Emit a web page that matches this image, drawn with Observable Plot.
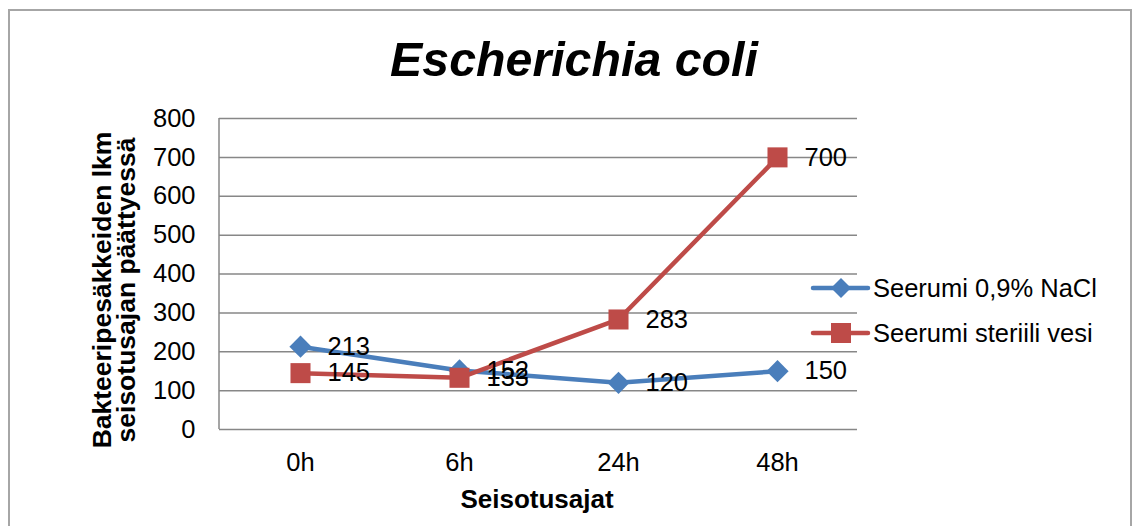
<!DOCTYPE html>
<html>
<head>
<meta charset="utf-8">
<script src="https://cdn.jsdelivr.net/npm/d3@7"></script>
<script src="https://cdn.jsdelivr.net/npm/@observablehq/plot@0.6"></script>
<style>
  html, body { margin: 0; padding: 0; background: #fff; }
  #wrap { position: relative; width: 1132px; height: 526px; overflow: hidden; font-family: "Liberation Sans", Arial, sans-serif; }
  #border { position: absolute; left: 8px; top: 9px; width: 1124px; height: 600px; border: 2px solid #a6a6a6; box-sizing: border-box; }
  #chart { position: absolute; left: 0; top: 0; }
</style>
</head>
<body>
<div id="wrap"><div id="border"></div><div id="chart"></div></div>
<script>
const title = "Escherichia coli";
const categories = ["0h", "6h", "24h", "48h"];
const seriesNames = ["Seerumi 0,9% NaCl", "Seerumi steriili vesi"];
const naclValues = [213, 152, 120, 150];
const waterValues = [145, 133, 283, 700];
const yTicks = [0, 100, 200, 300, 400, 500, 600, 700, 800];
const xTitle = "Seisotusajat";
const yTitleLines = ["Bakteeripesäkkeiden lkm", "seisotusajan päättyessä"];
const colors = ["#4A7EBB", "#BE4B48"];

const nacl = categories.map((c, i) => ({cat: c, value: naclValues[i], series: seriesNames[0]}));
const water = categories.map((c, i) => ({cat: c, value: waterValues[i], series: seriesNames[1]}));

const W = 1132, H = 526;
const mL = 219, mR = 275, mT = 118, mB = 97;
const font = "Liberation Sans, Arial, sans-serif";

const plot = Plot.plot({
  width: W, height: H,
  marginLeft: mL, marginRight: mR, marginTop: mT, marginBottom: mB,
  style: {fontFamily: font, fontSize: "25px", color: "#000", background: "transparent"},
  x: {type: "point", domain: categories, padding: 0.5},
  y: {domain: [0, 800]},
  marks: [
    Plot.gridY(yTicks, {stroke: "#878787", strokeOpacity: 1, strokeWidth: 1.5}),
    Plot.axisY(yTicks, {tickSize: 0, tickPadding: 24, fontSize: 25.5, label: null}),
    Plot.axisX(categories, {tickSize: 0, tickPadding: 23, fontSize: 25.5, label: null}),
    Plot.line(nacl, {x: "cat", y: "value", stroke: colors[0], strokeWidth: 4.5}),
    Plot.line(water, {x: "cat", y: "value", stroke: colors[1], strokeWidth: 4.5}),
    Plot.dot(nacl, {x: "cat", y: "value", symbol: "diamond2", r: 10, fill: colors[0], stroke: null}),
    Plot.dot(water, {x: "cat", y: "value", symbol: "square", r: 11.3, fill: colors[1], stroke: null}),
    Plot.text(nacl, {x: "cat", y: "value", text: d => String(d.value), dx: 27, textAnchor: "start", fontSize: 25.5, fill: "#000"}),
    Plot.text(water, {x: "cat", y: "value", text: d => String(d.value), dx: 27, textAnchor: "start", fontSize: 25.5, fill: "#000"})
  ]
});
document.getElementById("chart").appendChild(plot);

const svg = d3.select(plot);
const ys = plot.scale("y");
// left axis line
svg.append("line")
  .attr("x1", mL).attr("x2", mL)
  .attr("y1", ys.apply(800)).attr("y2", ys.apply(0))
  .attr("stroke", "#878787").attr("stroke-width", 1.5);

// title
svg.append("text").text(title)
  .attr("x", 574).attr("y", 76)
  .attr("text-anchor", "middle")
  .attr("font-family", font).attr("font-size", 48.3)
  .attr("font-weight", "bold").attr("font-style", "italic").attr("fill", "#000");

// x title
svg.append("text").text(xTitle)
  .attr("x", 537).attr("y", 508)
  .attr("text-anchor", "middle")
  .attr("font-family", font).attr("font-size", 26)
  .attr("font-weight", "bold").attr("fill", "#000");

// y title
const yt = svg.append("text")
  .attr("transform", "translate(111,290) rotate(-90)")
  .attr("text-anchor", "middle")
  .attr("font-family", font).attr("font-size", 26.5)
  .attr("font-weight", "bold").attr("fill", "#000");
yTitleLines.forEach((t, i) => {
  yt.append("tspan").attr("x", 0).attr("y", i * 24).text(t);
});

// legend
const legY = [288, 333];
seriesNames.forEach((name, i) => {
  const g = svg.append("g").attr("transform", `translate(0,${legY[i]})`);
  g.append("line").attr("x1", 813).attr("x2", 868).attr("y1", 0).attr("y2", 0)
    .attr("stroke", colors[i]).attr("stroke-width", 4.5).attr("stroke-linecap", "round");
  if (i === 0) {
    g.append("path").attr("d", "M841,-10L851,0L841,10L831,0Z").attr("fill", colors[i]);
  } else {
    g.append("rect").attr("x", 831).attr("y", -10).attr("width", 20).attr("height", 20).attr("fill", colors[i]);
  }
  g.append("text").text(name)
    .attr("x", 873).attr("y", 0).attr("dy", "0.35em")
    .attr("text-anchor", "start")
    .attr("font-family", font).attr("font-size", 25.5).attr("fill", "#000");
});
</script>
</body>
</html>
